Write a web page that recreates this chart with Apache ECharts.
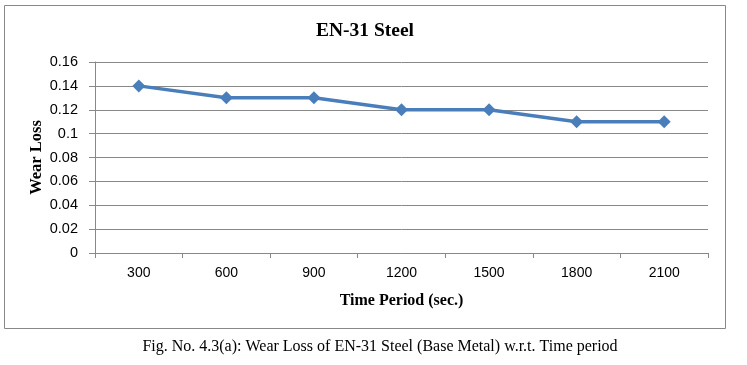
<!DOCTYPE html>
<html><head><meta charset="utf-8">
<script src="https://cdn.jsdelivr.net/npm/echarts@6/dist/echarts.min.js"></script>
<style>html,body{margin:0;padding:0;background:#fff}#c{width:747px;height:365px}</style>
</head><body><div id="c"></div>
<script>
const categories = ['300','600','900','1200','1500','1800','2100'];
const wearLoss = [0.14, 0.13, 0.13, 0.12, 0.12, 0.11, 0.11];
const yTicks = {min: 0, max: 0.16, interval: 0.02};
const titleText = 'EN-31 Steel';
const xName = 'Time Period (sec.)';
const yName = 'Wear Loss';
const caption = 'Fig. No. 4.3(a): Wear Loss of EN-31 Steel (Base Metal) w.r.t. Time period';

const chart = echarts.init(document.getElementById('c'));
chart.setOption({
  animation: false,
  graphic: [
    {type: 'rect', shape: {x: 4.5, y: 5.5, width: 721, height: 323},
     style: {fill: 'none', stroke: '#888', lineWidth: 1}, silent: true, z: -1},
    {type: 'text', x: 365, y: 31,
     style: {text: titleText, textAlign: 'center', textVerticalAlign: 'middle',
       font: 'bold 19.5px "Liberation Serif"', fill: '#000'}},
    {type: 'text', x: 380, y: 347,
     style: {text: caption, textAlign: 'center', textVerticalAlign: 'middle',
       font: '16px "Liberation Serif"', fill: '#000'}}
  ],
  grid: {left: 95, right: 39, top: 62, bottom: 112, containLabel: false},
  xAxis: {
    type: 'category', data: categories, boundaryGap: true,
    name: xName, nameLocation: 'middle', nameGap: 40, nameMoveOverlap: false,
    nameTextStyle: {fontFamily: 'Liberation Serif', fontWeight: 'bold', fontSize: 16, color: '#000'},
    axisLine: {lineStyle: {color: '#888', width: 1}},
    axisTick: {show: true, length: 5, lineStyle: {color: '#888'}},
    axisLabel: {fontFamily: 'Liberation Sans', fontSize: 14, color: '#000', margin: 13}
  },
  yAxis: {
    type: 'value', min: yTicks.min, max: yTicks.max, interval: yTicks.interval,
    name: yName, nameLocation: 'middle', nameGap: 50, nameRotate: 90, nameMoveOverlap: false,
    nameTextStyle: {fontFamily: 'Liberation Serif', fontWeight: 'bold', fontSize: 16.5, color: '#000'},
    axisLine: {show: true, lineStyle: {color: '#888', width: 1}},
    axisTick: {show: true, length: 6, lineStyle: {color: '#888'}},
    splitLine: {lineStyle: {color: '#888', width: 1}},
    axisLabel: {fontFamily: 'Liberation Sans', fontSize: 14.5, color: '#000', margin: 17,
      formatter: v => String(parseFloat(v.toFixed(2)))}
  },
  series: [{
    type: 'line', data: wearLoss,
    symbol: 'diamond', symbolSize: 13,
    lineStyle: {color: '#4a7ebb', width: 3.5},
    itemStyle: {color: '#4a7ebb'}
  }]
});
</script></body></html>
